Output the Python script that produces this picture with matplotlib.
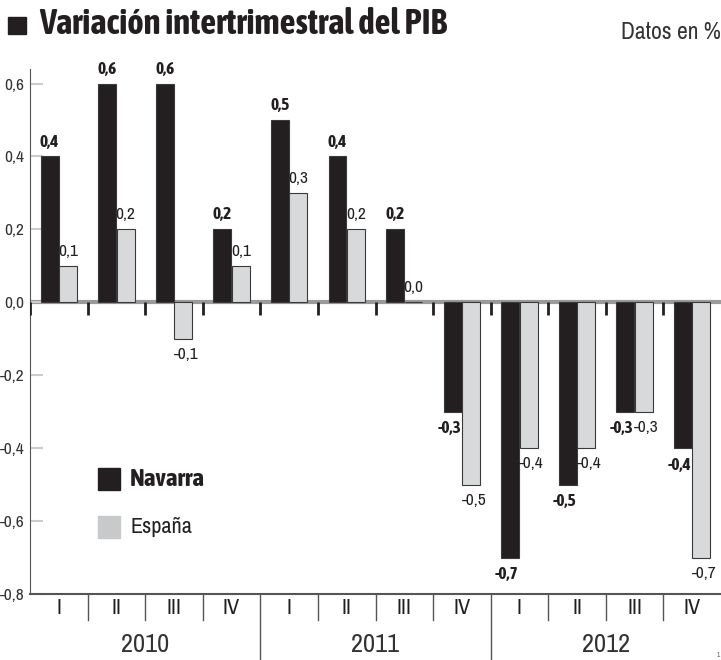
import matplotlib
matplotlib.use("Agg")
import matplotlib.pyplot as plt
from matplotlib import font_manager as fm
from matplotlib.patches import Rectangle

years = ["2010", "2011", "2012"]
quarters = ["I", "II", "III", "IV"]
navarra = [0.4, 0.6, 0.6, 0.2, 0.5, 0.4, 0.2, -0.3, -0.7, -0.5, -0.3, -0.4]
espana = [0.1, 0.2, -0.1, 0.1, 0.3, 0.2, 0.0, -0.5, -0.4, -0.4, -0.3, -0.7]
yticks = [0.6, 0.4, 0.2, 0.0, -0.2, -0.4, -0.6, -0.8]

DARK = "#231f20"
LIGHT = "#d8d9da"

# the original uses a condensed type, Archivo Narrow is the nearest one here
fonts = fm.fontManager.ttflist
names = {f.name for f in fonts}
if "Archivo Narrow" in names:
    plt.rcParams["font.family"] = ["Archivo Narrow", "DejaVu Sans"]
else:
    plt.rcParams["font.family"] = ["DejaVu Sans"]
    plt.rcParams["font.stretch"] = "condensed"

# Archivo Narrow has no bold here, so find a condensed bold face (closest to 700)
bold_file = None
for fam in ("Archivo Narrow", "Asap Condensed"):
    cands = [f for f in fonts if f.name == fam and isinstance(f.weight, int)
             and 600 <= f.weight <= 900 and "talic" not in f.style]
    if cands:
        bold_file = min(cands, key=lambda f: abs(f.weight - 700)).fname
        break


def bold(size):
    if bold_file:
        return fm.FontProperties(fname=bold_file, size=size)
    return fm.FontProperties(family="DejaVu Sans", stretch="condensed", weight="bold", size=size)


fig = plt.figure(figsize=(7.21, 6.60), dpi=100)
ax = fig.add_axes([30 / 721, 66 / 660, 691 / 721, (594 - 69) / 660])

n = len(navarra)
x = list(range(n))
w = 0.31
off = 0.16
ax.bar([i + 0.5 - off for i in x], navarra, width=w, color=DARK, edgecolor="#3a3a3a", linewidth=0.8, zorder=2)
ax.bar([i + 0.5 + off for i in x], espana, width=w, color=LIGHT, edgecolor="#3a3a3a", linewidth=0.8, zorder=2)


def fmt(v):
    return f"{v:.1f}".replace(".", ",")


for i in x:
    v = navarra[i]
    up = v >= 0
    ax.annotate(fmt(v), (i + 0.5 - off, v), xytext=(-2.5 if not up else 0, 5 if up else -6),
                textcoords="offset points", ha="center", va="bottom" if up else "top",
                fontproperties=bold(12.5), color=DARK)
    v = espana[i]
    up = v >= 0
    ax.annotate(fmt(v), (i + 0.5 + off, v), xytext=(2 if not up else 0, 5 if up else -6),
                textcoords="offset points", ha="center", va="bottom" if up else "top",
                fontsize=12.5, color=DARK)

ax.axhline(0, color="#9a9a9a", lw=3, zorder=1)
ax.vlines(range(0, n), -0.035, 0, color=DARK, lw=2, zorder=3)

ax.set_xlim(0, n)
ax.set_ylim(-0.8, 0.64)
ax.set_yticks(yticks)
ax.set_yticklabels([fmt(v) for v in yticks], fontsize=12.5, color="#333333")
ax.tick_params(axis="y", direction="in", length=9, width=1.5, color="#cccccc", pad=4)
ax.set_xticks([])
for s in ("top", "right"):
    ax.spines[s].set_visible(False)
ax.spines["left"].set_color("#555555")
ax.spines["bottom"].set_color("#555555")
ax.spines["bottom"].set_linewidth(1.5)

# quarter and year labels under the axis
trans = ax.get_xaxis_transform()
for i in x:
    ax.text(i + 0.5, -0.027, quarters[i % 4], transform=trans, ha="center", va="center",
            fontsize=16, color=DARK, clip_on=False)
for i in range(1, n):
    ln = 0.125 if i % 4 == 0 else 0.05
    ax.plot([i, i], [0, -ln], transform=trans, color="#555555", lw=1, clip_on=False)
for k, yr in enumerate(years):
    ax.text(4 * k + 2, -0.096, yr, transform=trans, ha="center", va="center",
            fontsize=19, color="#333333", clip_on=False)

# legend
fig.patches.append(Rectangle((98 / 721, 1 - 490 / 660), 22 / 721, 22 / 660, transform=fig.transFigure,
                             color=DARK))
fig.patches.append(Rectangle((98 / 721, 1 - 538 / 660), 22 / 721, 22 / 660, transform=fig.transFigure,
                             color="#c8c9ca"))
fig.text(130 / 721, 1 - 480 / 660, "Navarra", fontproperties=bold(18), color=DARK, va="center")
fig.text(130 / 721, 1 - 527 / 660, "España", fontsize=16, color=DARK, va="center")

# title
fig.patches.append(Rectangle((8 / 721, 1 - 34 / 660), 18 / 721, 17 / 660, transform=fig.transFigure,
                             color=DARK))
fig.text(39 / 721, 1 - 34 / 660, "Variación intertrimestral del PIB", fontproperties=bold(25),
         color=DARK, va="baseline")
fig.text(1.0, 1 - 39 / 660, "Datos en %", fontsize=17, color="#333333", va="baseline", ha="right")
fig.text(717 / 721, 1 - 655 / 660, "1", fontsize=5, color="#555555", va="center")

fig.savefig("out.png", dpi=100)
